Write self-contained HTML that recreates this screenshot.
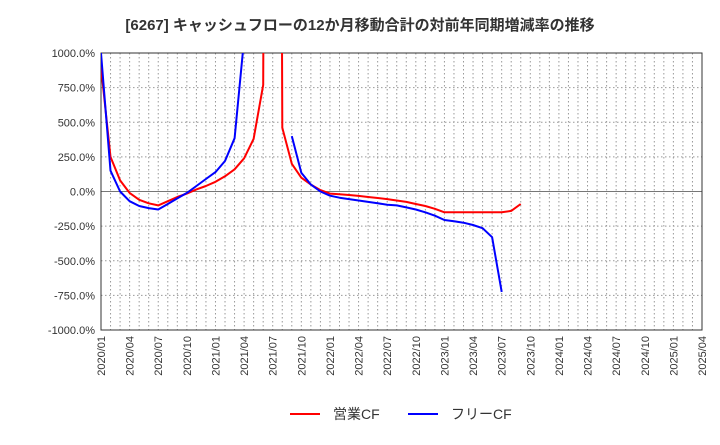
<!DOCTYPE html>
<html><head><meta charset="utf-8">
<style>
body{margin:0;background:#fff;width:720px;height:440px;overflow:hidden;font-family:"Liberation Sans","Noto Sans CJK JP",sans-serif;}
</style></head><body>
<svg id="chart" width="720" height="440" xmlns="http://www.w3.org/2000/svg" font-family="Liberation Sans, Noto Sans CJK JP, sans-serif">
<text x="360" y="30" text-anchor="middle" font-size="15" font-weight="bold" fill="#333">[6267]  キャッシュフローの12か月移動合計の対前年同期増減率の推移</text>
<g id="grid"></g><g id="axes"></g>
<defs><clipPath id="pc"><rect x="101" y="53" width="601" height="277"/></clipPath></defs>
<g id="series" clip-path="url(#pc)"></g>
<g>
<line x1="290" y1="414" x2="320" y2="414" stroke="#f00" stroke-width="2"/>
<text x="333" y="419" font-size="14" fill="#333">営業CF</text>
<line x1="408" y1="414" x2="438" y2="414" stroke="#00f" stroke-width="2"/>
<text x="451" y="419" font-size="14" fill="#333">フリーCF</text>
</g>
</svg>
<script>
const xLabels=["2020/01","2020/04","2020/07","2020/10","2021/01","2021/04","2021/07","2021/10","2022/01","2022/04","2022/07","2022/10","2023/01","2023/04","2023/07","2023/10","2024/01","2024/04","2024/07","2024/10","2025/01","2025/04"];
const yTicks=[1000,750,500,250,0,-250,-500,-750,-1000];
const opCF=[900,250,80,-10,-60,-85,-100,-70,-40,-15,15,40,70,110,160,240,380,770,20000,460,200,100,50,10,-15,-20,-25,-32,-40,-47,-55,-65,-75,-90,-105,-125,-150,-150,-150,-150,-150,-150,-150,-140,-90];
const freeCF=[1000,150,0,-70,-105,-120,-130,-90,-50,-10,40,90,140,220,385,1100,null,null,null,null,400,136,50,0,-30,-45,-55,-65,-75,-85,-95,-100,-115,-130,-150,-175,-206,-215,-225,-242,-265,-330,-725];
const X0=101,X1=702,Y0=53,Y1=330,NM=63;
const xs=m=>X0+(X1-X0)*m/NM;
const ys=v=>Y0+(1000-v)/2000*(Y1-Y0);
const NS="http://www.w3.org/2000/svg";
const mk=(p,t,a)=>{const e=document.createElementNS(NS,t);for(const k in a)e.setAttribute(k,a[k]);p.appendChild(e);return e;};
const grid=document.getElementById('grid'),axes=document.getElementById('axes'),ser=document.getElementById('series');
for(let m=1;m<NM;m++){const l=mk(grid,'line',{x1:xs(m),x2:xs(m),y1:Y0,y2:Y1,stroke:'#999','stroke-dasharray':'1.5,2.5','stroke-width':1});

}
yTicks.forEach(v=>{const y=ys(v);
const l=mk(grid,'line',{x1:X0,x2:X1,y1:y,y2:y,stroke:v===0?'#777':'#999','stroke-dasharray':v===0?'none':'1.5,2.5','stroke-width':1});


const t=mk(axes,'text',{x:X0-6,y:y+4,'text-anchor':'end','font-size':11,fill:'#333'});t.textContent=v.toFixed(1)+'%';

});
const fr=mk(axes,'rect',{x:X0,y:Y0,width:X1-X0,height:Y1-Y0,fill:'none',stroke:'#333','stroke-width':1});


xLabels.forEach((s,i)=>{const x=xs(i*3);
const t=mk(axes,'text',{transform:`translate(${x+4},${Y1+6}) rotate(-90)`,'text-anchor':'end','font-size':11,fill:'#333'});t.textContent=s;

});
function draw(arr,col,name){let d='',pen=false;arr.forEach((v,i)=>{if(v===null){pen=false;return;}d+=(pen?'L':'M')+xs(i).toFixed(1)+','+ys(v).toFixed(1);pen=true;});
const p=mk(ser,'path',{d:d,fill:'none',stroke:col,'stroke-width':2,'stroke-linejoin':'round'});

}
draw(opCF,'#f00','operating-cf-line');
draw(freeCF,'#00f','free-cf-line');
</script>
</body></html>
